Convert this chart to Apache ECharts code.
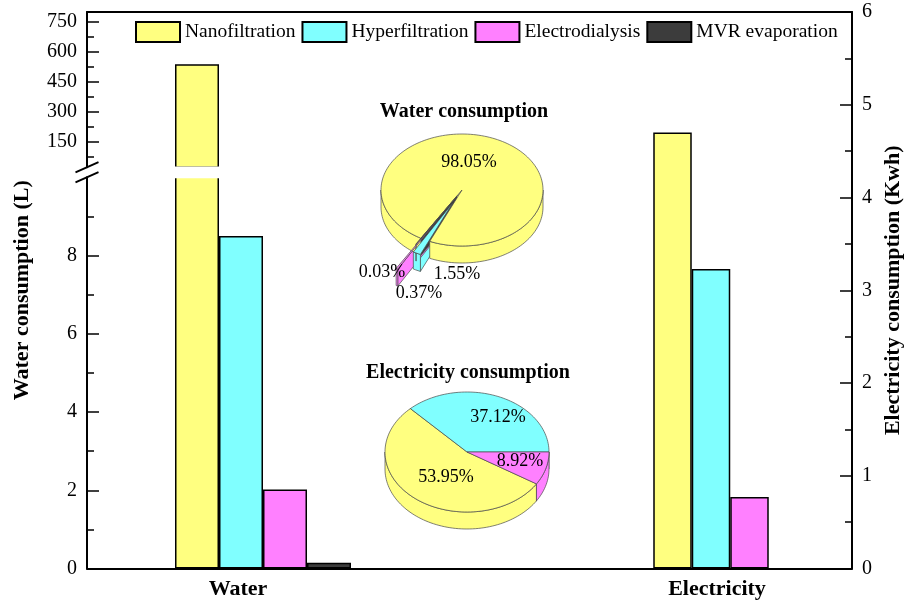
<!DOCTYPE html>
<html>
<head>
<meta charset="utf-8">
<script src="https://cdn.jsdelivr.net/npm/echarts@6/dist/echarts.min.js"></script>
<style>
  html, body { margin: 0; padding: 0; background: #fff; }
  #chart { width: 919px; height: 606px; }
</style>
</head>
<body>
<div id="chart"></div>
<script>
// ---- data ----
const categories = ['Water', 'Electricity'];
const seriesNames = ['Nanofiltration', 'Hyperfiltration', 'Electrodialysis', 'MVR evaporation'];
const waterValues = [538, 8.5, 2.02, 0.15];          // L
const electricityValues = [4.70, 3.23, 0.77];        // kWh
const waterShare = [98.05, 1.55, 0.37, 0.03];        // %
const electricityShare = [53.95, 37.12, 8.92];       // %
const waterLowTicks = [0, 2, 4, 6, 8];
const waterLowMinor = [1, 3, 5, 7, 9];
const waterHighTicks = [150, 300, 450, 600, 750];
const waterHighMinor = [75, 225, 375, 525, 675];

// ---- style / layout ----
const FONT = '"Liberation Serif", "Times New Roman", serif';
const colors = ['#FFFF80', '#80FFFF', '#FF80FF', '#3C3C3C'];
const W = 919, H = 606;
const frame = { left: 87, right: 852, top: 12, bottom: 568.5 };
const breakHigh = 167.3;   // bottom of the upper segment
const breakLow = 177.3;    // top of the lower segment
const lowMax = 10, highMin = 20, highMax = 800;
const waterGridWidth = 352;
const elecGridLeft = 570;
const waterBarW = 44, elecBarW = 38.5;
const axisLineStyle = { color: '#000', width: 2 };
const tickStyle = { color: '#000', width: 1.5 };
const labelStyle = { fontFamily: FONT, fontSize: 20, color: '#000' };
const barBorder = { borderColor: '#000', borderWidth: 1.5 };

const waterPie = {
  cx: 462, cy: 190, rx: 81, ry: 56, h: 17, start: 239.5,
  explode: [0, 0.26, 0.62, 0.12],
  labelOffset: [[7, -28], [-5, 84], [-43, 103], [-80, 82]]
};
const elecPie = {
  cx: 467, cy: 452, rx: 82, ry: 60, h: 17, start: -32.1,
  explode: [0, 0, 0],
  labelOffset: [[-21, 25], [31, -35], [53, 9]]
};

function arcPts(ox, oy, rx, ry, from, to, dy) {
  const n = Math.max(2, Math.ceil(Math.abs(to - from) / (Math.PI / 90)));
  const pts = [];
  for (let k = 0; k <= n; k++) {
    const t = from + (to - from) * k / n;
    pts.push([ox + rx * Math.cos(t), oy - ry * Math.sin(t) + dy]);
  }
  return pts;
}

// 3-D style pie drawn as a custom series: slices run clockwise from `start`
function pie3D(shares, cfg) {
  const total = shares.reduce((a, b) => a + b, 0);
  const before = [];
  let acc = 0;
  shares.forEach(v => { before.push(acc); acc += v; });
  return {
    type: 'custom',
    coordinateSystem: 'none',
    silent: true,
    data: shares.map((v, i) => [v, i]),
    renderItem(params, api) {
      const i = params.dataIndex;
      const v = api.value(0);
      const a0 = (cfg.start - before[i] / total * 360) * Math.PI / 180;
      const a1 = a0 - v / total * 2 * Math.PI;
      const mid = (a0 + a1) / 2;
      const e = cfg.explode[i] || 0;
      const ox = cfg.cx + e * cfg.rx * Math.cos(mid);
      const oy = cfg.cy - e * cfg.ry * Math.sin(mid);
      const rim = (t, dy) => [ox + cfg.rx * Math.cos(t), oy - cfg.ry * Math.sin(t) + dy];
      const st = { fill: colors[i], stroke: '#4a4a4a', lineWidth: 0.7 };
      const children = [];
      // cut faces of the wedge
      [[a0, Math.cos(a0) < 0], [a1, Math.cos(a1) > 0]].forEach(([t, vis]) => {
        if (!vis) return;
        children.push({
          type: 'polygon', z2: 10,
          shape: { points: [[ox, oy], rim(t, 0), rim(t, cfg.h), [ox, oy + cfg.h]] },
          style: st
        });
      });
      // outer rim, front half only
      for (let k = -3; k <= 3; k++) {
        const lo = Math.max(a1, Math.PI * (2 * k + 1));
        const hi = Math.min(a0, Math.PI * (2 * k + 2));
        if (hi > lo) {
          const pts = arcPts(ox, oy, cfg.rx, cfg.ry, lo, hi, 0)
            .concat(arcPts(ox, oy, cfg.rx, cfg.ry, hi, lo, cfg.h));
          children.push({ type: 'polygon', z2: 20, shape: { points: pts }, style: st });
        }
      }
      // top face
      children.push({
        type: 'polygon', z2: 100,
        shape: { points: [[ox, oy]].concat(arcPts(ox, oy, cfg.rx, cfg.ry, a0, a1, 0)) },
        style: st
      });
      // percentage label
      children.push({
        type: 'text', z2: 200,
        x: cfg.cx + cfg.labelOffset[i][0],
        y: cfg.cy + cfg.labelOffset[i][1],
        style: {
          text: v.toFixed(2) + '%',
          fontFamily: FONT, fontSize: 18, fill: '#000',
          align: 'center', verticalAlign: 'middle'
        }
      });
      return { type: 'group', children };
    }
  };
}

const nanoLeft = frame.left + waterGridWidth / 2 - 2 * waterBarW;

const option = {
  animation: false,
  backgroundColor: '#fff',
  grid: [
    { left: frame.left, right: W - frame.right, top: frame.top, bottom: H - frame.bottom, containLabel: false, outerBoundsMode: 'none' },
    { left: frame.left, width: waterGridWidth, top: breakLow, bottom: H - frame.bottom, containLabel: false, outerBoundsMode: 'none' },
    { left: frame.left, width: waterGridWidth, top: frame.top, height: breakHigh - frame.top, containLabel: false, outerBoundsMode: 'none' },
    { left: elecGridLeft, right: W - frame.right, top: frame.top, bottom: H - frame.bottom, containLabel: false, outerBoundsMode: 'none' }
  ],
  legend: {
    data: seriesNames,
    left: 130, top: 16,
    itemWidth: 44, itemHeight: 20, itemGap: 6,
    icon: 'rect',
    selectedMode: false,
    textStyle: { fontFamily: FONT, fontSize: 19.5, color: '#000' }
  },
  xAxis: [
    { gridIndex: 0, type: 'value', min: 0, max: 1, position: 'bottom',
      axisLine: { show: true, onZero: false, lineStyle: axisLineStyle },
      axisTick: { show: false }, axisLabel: { show: false }, splitLine: { show: false } },
    { gridIndex: 0, type: 'value', min: 0, max: 1, position: 'top',
      axisLine: { show: true, onZero: false, lineStyle: axisLineStyle },
      axisTick: { show: false }, axisLabel: { show: false }, splitLine: { show: false } },
    { gridIndex: 1, type: 'category', data: [categories[0]],
      axisLine: { show: false }, axisTick: { show: false },
      axisLabel: {
        margin: 10,
        formatter: v => '{c|' + v + '}',
        rich: { c: { fontFamily: FONT, fontSize: 22, fontWeight: 'bold', color: '#000', padding: [0, 50, 0, 0] } }
      } },
    { gridIndex: 2, type: 'category', data: [categories[0]], show: false },
    { gridIndex: 3, type: 'category', data: [categories[1]],
      axisLine: { show: false }, axisTick: { show: false },
      axisLabel: {
        margin: 10,
        formatter: v => '{c|' + v + '}',
        rich: { c: { fontFamily: FONT, fontSize: 22, fontWeight: 'bold', color: '#000', padding: [0, 0, 0, 12] } }
      } }
  ],
  yAxis: [
    { gridIndex: 0, type: 'value', min: 0, max: 1, position: 'left',
      axisLine: { show: false }, axisTick: { show: false }, axisLabel: { show: false }, splitLine: { show: false },
      name: 'Water consumption (L)', nameLocation: 'middle', nameGap: 54,
      nameTextStyle: { fontFamily: FONT, fontSize: 22, fontWeight: 'bold', color: '#000' } },
    { gridIndex: 1, type: 'value', min: 0, max: lowMax, position: 'left',
      axisLine: { show: true, onZero: false, lineStyle: axisLineStyle },
      axisTick: { show: true, inside: true, length: 12, lineStyle: tickStyle, customValues: waterLowTicks },
      axisLabel: Object.assign({ margin: 10, customValues: waterLowTicks }, labelStyle),
      splitLine: { show: false } },
    { gridIndex: 1, type: 'value', min: 0, max: lowMax, position: 'left',
      axisLine: { show: false },
      axisTick: { show: true, inside: true, length: 7, lineStyle: tickStyle, customValues: waterLowMinor },
      axisLabel: { show: false }, splitLine: { show: false } },
    { gridIndex: 2, type: 'value', min: highMin, max: highMax, position: 'left',
      axisLine: { show: true, onZero: false, lineStyle: axisLineStyle },
      axisTick: { show: true, inside: true, length: 12, lineStyle: tickStyle, customValues: waterHighTicks },
      axisLabel: Object.assign({ margin: 10, customValues: waterHighTicks }, labelStyle),
      splitLine: { show: false } },
    { gridIndex: 2, type: 'value', min: highMin, max: highMax, position: 'left',
      axisLine: { show: false },
      axisTick: { show: true, inside: true, length: 7, lineStyle: tickStyle, customValues: waterHighMinor },
      axisLabel: { show: false }, splitLine: { show: false } },
    { gridIndex: 3, type: 'value', min: 0, max: 6, interval: 1, position: 'right',
      axisLine: { show: true, onZero: false, lineStyle: axisLineStyle },
      axisTick: { show: true, inside: true, length: 12, lineStyle: tickStyle },
      minorTick: { show: true, splitNumber: 2, length: 7, lineStyle: tickStyle },
      axisLabel: Object.assign({ margin: 10 }, labelStyle),
      splitLine: { show: false },
      name: 'Electricity consumption (Kwh)', nameLocation: 'middle', nameGap: 30,
      nameTextStyle: { fontFamily: FONT, fontSize: 22, fontWeight: 'bold', color: '#000' } }
  ],
  series: [
    // water, lower segment (0 – 10 L)
    ...seriesNames.map((n, i) => ({
      type: 'bar', name: n, xAxisIndex: 2, yAxisIndex: 1,
      data: [waterValues[i]], barWidth: waterBarW, barGap: '0%',
      itemStyle: Object.assign({ color: colors[i] }, barBorder)
    })),
    // water, upper segment (20 – 800 L)
    ...seriesNames.map((n, i) => ({
      type: 'bar', name: n, xAxisIndex: 3, yAxisIndex: 3,
      data: [waterValues[i] > highMin ? waterValues[i] : '-'], barWidth: waterBarW, barGap: '0%',
      itemStyle: Object.assign({ color: colors[i] }, barBorder)
    })),
    // electricity
    ...electricityValues.map((v, i) => ({
      type: 'bar', name: seriesNames[i], xAxisIndex: 4, yAxisIndex: 5,
      data: [v], barWidth: elecBarW, barGap: '0%',
      itemStyle: Object.assign({ color: colors[i] }, barBorder)
    })),
    pie3D(waterShare, waterPie),
    pie3D(electricityShare, elecPie)
  ],
  graphic: [
    // white gap through the broken bar
    { type: 'rect', z: 50, silent: true,
      shape: { x: nanoLeft - 2, y: breakHigh - 0.9, width: waterBarW + 4, height: breakLow - breakHigh + 1.8 },
      style: { fill: '#fff' } },
    // axis break marks
    { type: 'line', z: 50, silent: true,
      shape: { x1: frame.left - 11.5, y1: breakHigh + 5.1, x2: frame.left + 11.5, y2: breakHigh - 5.1 },
      style: { stroke: '#000', lineWidth: 2 } },
    { type: 'line', z: 50, silent: true,
      shape: { x1: frame.left - 11.5, y1: breakLow + 5.1, x2: frame.left + 11.5, y2: breakLow - 5.1 },
      style: { stroke: '#000', lineWidth: 2 } },
    // pie titles
    { type: 'text', z: 50, silent: true, x: 464, y: 112,
      style: { text: 'Water consumption', fontFamily: FONT, fontSize: 20, fontWeight: 'bold', fill: '#000', align: 'center', verticalAlign: 'middle' } },
    { type: 'text', z: 50, silent: true, x: 468, y: 373,
      style: { text: 'Electricity consumption', fontFamily: FONT, fontSize: 20, fontWeight: 'bold', fill: '#000', align: 'center', verticalAlign: 'middle' } }
  ]
};

const chart = echarts.init(document.getElementById('chart'), null, { renderer: 'canvas' });
chart.setOption(option);
</script>
</body>
</html>
